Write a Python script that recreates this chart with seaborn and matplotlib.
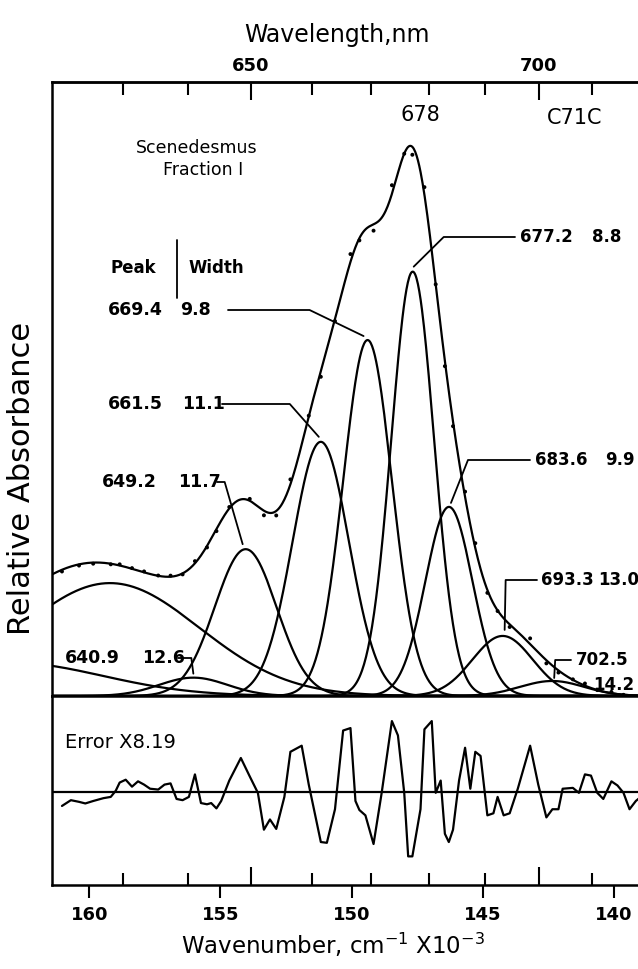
import numpy as np
import pandas as pd
import matplotlib
matplotlib.use("Agg")
import matplotlib.pyplot as plt
from matplotlib.lines import Line2D
import seaborn as sns

# Gaussian components of the Scenedesmus Fraction I absorption band (C71C)
peak_nm = [613.5, 628.1, 640.9, 649.2, 661.5, 669.4, 677.2, 683.6, 693.3, 702.5]
width_nm = [31.0, 31.6, 12.6, 11.7, 11.1, 9.8, 8.8, 9.9, 13.0, 14.2]
height = [0.060, 0.203, 0.033, 0.264, 0.457, 0.640, 0.763, 0.340, 0.108, 0.027]

# residual (observed - fitted) x 8.19, wavenumber in cm-1 x 10^-2 units of the axis
err_wn = [161.04, 160.70, 160.39, 160.15, 159.85, 159.46, 159.18, 158.99, 158.84, 158.61,
          158.37, 158.14, 157.91, 157.68, 157.37, 157.13, 156.90, 156.67, 156.44, 156.20,
          155.97, 155.74, 155.51, 155.35, 155.15, 154.97, 154.66, 154.22, 153.88, 153.57,
          153.34, 153.11, 152.87, 152.56, 152.33, 151.90, 151.63, 151.40, 151.17, 150.94,
          150.63, 150.32, 150.04, 149.85, 149.70, 149.47, 149.16, 148.85, 148.46, 148.23,
          147.99, 147.84, 147.68, 147.37, 147.22, 146.94, 146.79, 146.60, 146.44, 146.29,
          146.13, 145.90, 145.67, 145.47, 145.28, 145.08, 144.82, 144.59, 144.43, 144.20,
          143.97, 143.66, 143.19, 142.88, 142.57, 142.34, 142.11, 141.95, 141.56, 141.33,
          141.10, 140.87, 140.63, 140.40, 140.09, 139.86, 139.63, 139.40, 139.16, 138.88]
err_val = [-0.0251, -0.0147, -0.0177, -0.0206, -0.0162, -0.0111, -0.0088, 0.0022, 0.0170, 0.0221,
           0.0096, 0.0192, 0.0133, 0.0059, 0.0044, 0.0133, 0.0155, -0.0125, -0.0147, -0.0088,
           0.0317, -0.0199, -0.0221, -0.0199, -0.0295, -0.0162, 0.0206, 0.0612, 0.0280, -0.0015,
           -0.0678, -0.0494, -0.0664, -0.0088, 0.0723, 0.0833, 0.0133, -0.0383, -0.0900, -0.0914,
           -0.0310, 0.1106, 0.1150, -0.0162, -0.0324, -0.0420, -0.0936, -0.0015, 0.1276, 0.1018,
           -0.0015, -0.1158, -0.1158, -0.0310, 0.1128, 0.1276, -0.0015, 0.0206, -0.0752, -0.0900,
           -0.0678, 0.0206, 0.0796, 0.0059, 0.0723, 0.0649, -0.0420, -0.0383, -0.0088, -0.0420,
           -0.0383, 0.0059, 0.0833, 0.0133, -0.0457, -0.0310, -0.0310, 0.0059, 0.0074, -0.0015,
           0.0317, 0.0295, -0.0015, -0.0125, 0.0192, 0.0118, -0.0015, -0.0310, -0.0162, -0.0052]
err_scale = 8.19

top_major_nm = [650, 700]
top_minor_nm = [630, 640, 660, 670, 680, 690, 710]
bottom_ticks = [160, 155, 150, 145, 140]

W, H = 638, 969
sns.set_theme(style="ticks")
plt.rcParams["font.family"] = ["DejaVu Sans"]
plt.rcParams["mathtext.fontset"] = "dejavusans"

def nm_to_wn(v):
    v = np.asarray(v, dtype=float)
    with np.errstate(divide="ignore", invalid="ignore"):
        return 1e5 / v

centers = nm_to_wn(peak_nm)
sigmas = 1e5 * np.asarray(width_nm) / np.asarray(peak_nm) ** 2 / 2.3548
amps = np.asarray(height)

grid = np.linspace(138.5, 161.6, 900)
rows = []
for k, (c, s, a) in enumerate(zip(centers, sigmas, amps)):
    rows.append(pd.DataFrame({"wn": grid, "abs": a * np.exp(-(grid - c) ** 2 / (2 * s ** 2)), "comp": k}))
comps = pd.concat(rows, ignore_index=True)
total = comps.groupby("wn", sort=True)["abs"].sum().reset_index()

def fit_at(x):
    x = np.asarray(x)[:, None]
    return (amps * np.exp(-(x - centers) ** 2 / (2 * sigmas ** 2))).sum(axis=1)

ewn = np.asarray(err_wn)
eval_ = np.asarray(err_val)
obs = pd.DataFrame({"wn": ewn[::2], "abs": fit_at(ewn[::2]) + eval_[::2] / err_scale})

fig = plt.figure(figsize=(W / 100, H / 100), dpi=100)
x_left, x_right = 161.42, 138.81
ax = fig.add_axes([52 / W, 1 - 696 / H, 593 / W, 614 / H])
axe = fig.add_axes([52 / W, 1 - 885 / H, 593 / W, 189 / H])

LW = 1.6
sns.lineplot(data=comps, x="wn", y="abs", units="comp", estimator=None, color="black",
             lw=LW, ax=ax, legend=False)
sns.lineplot(data=total, x="wn", y="abs", color="black", lw=LW, ax=ax)
sns.scatterplot(data=obs, x="wn", y="abs", color="black", s=8, edgecolor="none", ax=ax)

ax.set_xlim(x_left, x_right)
ax.set_ylim(0, 1.104)
ax.set_xlabel("")
ax.set_ylabel("")
ax.set_xticks([])
ax.set_yticks([])
for side in ["top", "left", "bottom"]:
    ax.spines[side].set_linewidth(1.8)
    ax.spines[side].set_color("black")
ax.spines["right"].set_visible(False)

# wavelength scale along the top
sec = ax.secondary_xaxis("top", functions=(nm_to_wn, nm_to_wn))
sec.set_xticks(top_major_nm)
sec.set_xticks(top_minor_nm, minor=True)
sec.set_xticklabels([str(v) for v in top_major_nm])
sec.tick_params(which="major", direction="in", length=13, width=1.5, labelsize=13, pad=5, colors="black")
sec.tick_params(which="minor", direction="in", length=9, width=1.5, colors="black")
for t in sec.get_xticklabels():
    t.set_fontweight("bold")
sec.spines["top"].set_linewidth(1.8)

# residual panel
axe.axhline(0, color="black", lw=LW)
sns.lineplot(x=ewn, y=eval_, sort=False, estimator=None, color="black", lw=LW, ax=axe)
axe.set_xlim(x_left, x_right)
axe.set_ylim(-0.1673, 0.1727)
axe.set_yticks([])
axe.set_xlabel("")
axe.set_ylabel("")
axe.set_xticks(bottom_ticks)
axe.set_xticklabels([str(v) for v in bottom_ticks])
axe.tick_params(axis="x", direction="out", length=9, width=1.5, labelsize=13, pad=6, colors="black")
for t in axe.get_xticklabels():
    t.set_fontweight("bold")
for side in ["top", "left", "bottom"]:
    axe.spines[side].set_linewidth(1.8)
    axe.spines[side].set_color("black")
axe.spines["right"].set_visible(False)

sec2 = axe.secondary_xaxis("bottom", functions=(nm_to_wn, nm_to_wn))
sec2.set_xticks(top_major_nm)
sec2.set_xticks(top_minor_nm, minor=True)
sec2.set_xticklabels([])
sec2.tick_params(which="major", direction="in", length=13, width=1.5, colors="black")
sec2.tick_params(which="minor", direction="in", length=9, width=1.5, colors="black")
sec2.spines["bottom"].set_visible(False)


def ftxt(px, py, s, **kw):
    kw.setdefault("va", "center")
    fig.text(px / W, 1 - py / H, s, color="black", **kw)


ftxt(337, 35, "Wavelength,nm", ha="center", fontsize=17)
ftxt(333, 945, r"Wavenumber, cm$^{-1}$ X10$^{-3}$", ha="center", fontsize=16.5)
ftxt(22, 478, "Relative Absorbance", ha="center", rotation=90, fontsize=22)
ftxt(420, 115, "678", ha="center", fontsize=15)
ftxt(575, 118, "C71C", ha="center", fontsize=15)
ftxt(197, 148, "Scenedesmus", ha="center", fontsize=12.5)
ftxt(203, 170, "Fraction I", ha="center", fontsize=12.5)
ftxt(133, 268, "Peak", ha="center", fontsize=12, fontweight="bold")
ftxt(216, 268, "Width", ha="center", fontsize=12, fontweight="bold")
fig.add_artist(Line2D([177 / W, 177 / W], [1 - 240 / H, 1 - 298 / H], color="black", lw=1.3,
                      transform=fig.transFigure))
ftxt(65, 742, "Error X8.19", ha="left", fontsize=14)

# label placement: peak text x / alignment, width text x, row y, leader start x,
# knee offset from the peak, end offset from the peak (pixels)
label_layout = {
    2: dict(px=65, ha="left", wx=142, y=658, sx=178, kdx=-2, end=(0, -4)),
    3: dict(px=157, ha="right", wx=178, y=482, sx=217, kdx=-21, end=(-3, -5)),
    4: dict(px=163, ha="right", wx=182, y=404, sx=222, kdx=-31, end=(-2, -5)),
    5: dict(px=163, ha="right", wx=180, y=310, sx=228, kdx=-58, end=(-4, -4)),
    6: dict(px=520, ha="left", wx=592, y=237, sx=515, kdx=31, end=(1, -5)),
    7: dict(px=535, ha="left", wx=605, y=460, sx=530, kdx=19, end=(2, -4)),
    8: dict(px=541, ha="left", wx=598, y=580, sx=537, kdx=3, end=(2, -6)),
    9: dict(px=576, ha="left", wx=593, y=660, sx=571, kdx=3, end=(2, -3), wy=685),
}

for k, lay in label_layout.items():
    X, Y = ax.transData.transform((centers[k], amps[k]))
    ppx, ppy = X, H - Y
    fs = 12.5 if lay["ha"] == "right" or k == 2 else 12
    ftxt(lay["px"], lay["y"], f"{peak_nm[k]:.1f}", ha=lay["ha"], fontsize=fs, fontweight="bold")
    ftxt(lay["wx"], lay.get("wy", lay["y"]), f"{width_nm[k]:.1f}", ha="left", fontsize=fs,
         fontweight="bold")
    kx = ppx + lay["kdx"]
    ex, ey = ppx + lay["end"][0], ppy + lay["end"][1]
    xs = [lay["sx"], kx, ex]
    ys = [lay["y"], lay["y"], ey]
    fig.add_artist(Line2D([v / W for v in xs], [1 - v / H for v in ys], color="black", lw=1.3,
                          transform=fig.transFigure))

fig.savefig("out.png", dpi=100, facecolor="white")
